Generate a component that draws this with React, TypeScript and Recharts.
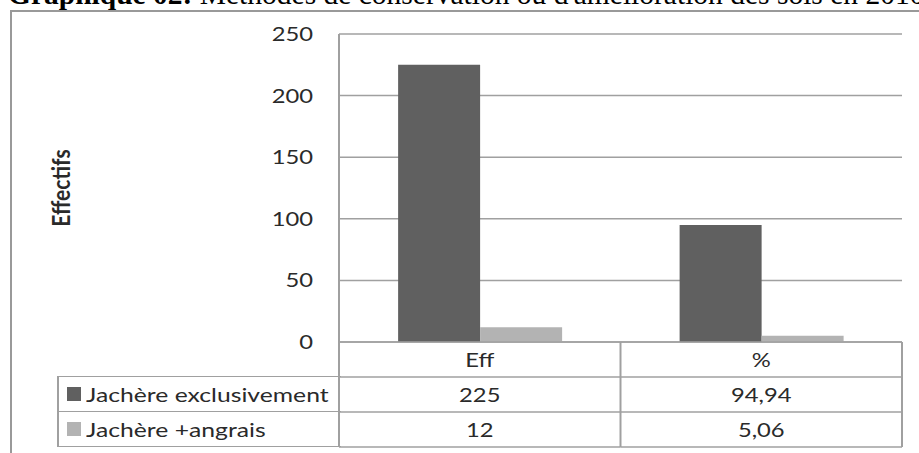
import { BarChart, Bar, XAxis, YAxis, CartesianGrid, Legend } from 'recharts'

const categories = ['Eff', '%']
const exclusivement = [225, 94.94]
const engrais = [12, 5.06]
const seriesNames = ['Jachère exclusivement', 'Jachère +angrais']
const yTicks = [0, 50, 100, 150, 200, 250]

const data = categories.map((cat, i) => ({ cat, excl: exclusivement[i], engrais: engrais[i] }))

const W = 919
const H = 453
const X_H = 111
const margin = { top: 34, right: 17, left: 40, bottom: 0 }
const Y_W = 299
const plotW = W - margin.left - Y_W - margin.right
const colW = plotW / categories.length
const ROW = 35
const FONT = 'Lato, "Open Sans", sans-serif'
const GRID = '#a0a0a0'
const TEXT = '#2a2a2a'
const SX = 1.25

const fmt = (v: number) => String(v).replace('.', ',')

const YTick = ({ x, y, payload }: any) => (
  <text
    transform={`translate(${x},${y}) scale(${SX},1)`}
    textAnchor='end'
    dominantBaseline='central'
    fontSize={19}
    fontFamily={FONT}
    fill={TEXT}
  >
    {payload.value}
  </text>
)

// colonnes du tableau de données sous l'axe
const TableTick = ({ x, y, payload }: any) => {
  const i = categories.indexOf(payload.value)
  const left = x - colW / 2
  const right = x + colW / 2
  const rows = [exclusivement, engrais]
  const cell = (ty: number, label: string, key: string) => (
    <text
      key={key}
      transform={`translate(${x},${ty}) scale(${SX},1)`}
      textAnchor='middle'
      dominantBaseline='central'
      fontSize={19}
      fontFamily={FONT}
      fill={TEXT}
    >
      {label}
    </text>
  )
  return (
    <g>
      {i === 0 && <line x1={left} x2={left} y1={y} y2={y + ROW * 3} stroke={GRID} strokeWidth={2} />}
      <line x1={right} x2={right} y1={y} y2={y + ROW * 3} stroke={GRID} strokeWidth={2} />
      {[1, 2, 3].map(r => (
        <line key={r} x1={left} x2={right} y1={y + ROW * r} y2={y + ROW * r} stroke={GRID} strokeWidth={1.5} />
      ))}
      {cell(y + ROW / 2, payload.value, 'h')}
      {rows.map((vals, r) => cell(y + ROW * (r + 1) + ROW / 2, fmt(vals[i]), 'r' + r))}
    </g>
  )
}

const LegendTable = ({ payload }: any) => {
  const items = [...(payload || [])].sort(
    (a: any, b: any) => seriesNames.indexOf(a.value) - seriesNames.indexOf(b.value)
  )
  return (
    <div style={{ borderLeft: `2px solid ${GRID}`, borderTop: `1px solid ${GRID}`, boxSizing: 'border-box' }}>
      {items.map((p: any) => (
        <div
          key={p.value}
          style={{
            height: ROW,
            boxSizing: 'border-box',
            borderBottom: `1.5px solid ${GRID}`,
            display: 'flex',
            alignItems: 'center',
            fontFamily: FONT,
            fontSize: 19,
            color: TEXT
          }}
        >
          <span style={{ width: 14, height: 14, background: p.color, marginLeft: 8, flex: 'none' }} />
          <span style={{ display: 'inline-block', marginLeft: 5, transform: 'scaleX(1.3)', transformOrigin: 'left center', whiteSpace: 'nowrap' }}>
            {p.value}
          </span>
        </div>
      ))}
    </div>
  )
}

const AxisTitle = ({ viewBox }: any) => {
  const cx = viewBox.x + 20
  const cy = viewBox.y + viewBox.height / 2
  return (
    <text
      transform={`translate(${cx},${cy}) rotate(-90) scale(1,1.2)`}
      textAnchor='middle'
      dominantBaseline='central'
      fontSize={21}
      fontWeight='bold'
      fontFamily={FONT}
      fill={TEXT}
    >
      Effectifs
    </text>
  )
}

export default function App() {
  return (
    <div style={{ position: 'absolute', left: 0, top: 0, width: W, height: H, overflow: 'hidden', background: '#fff' }}>
      <div
        style={{
          position: 'absolute',
          left: 8,
          top: -20,
          fontFamily: '"Liberation Serif", "Times New Roman", serif',
          fontSize: 29.5,
          lineHeight: '29px',
          whiteSpace: 'nowrap',
          color: '#000'
        }}
      >
        <b>Graphique 02:</b> Méthodes de conservation ou d'amélioration des sols en 2010
      </div>
      <div style={{ position: 'absolute', left: 0, top: 0 }}>
        <BarChart width={W} height={H} data={data} margin={margin} barCategoryGap='21%' barGap={0}>
          <CartesianGrid vertical={false} stroke={GRID} strokeWidth={1.5} />
          <XAxis
            dataKey='cat'
            interval={0}
            tickLine={false}
            tickSize={0}
            tickMargin={0}
            height={X_H}
            axisLine={{ stroke: GRID, strokeWidth: 1.5 }}
            tick={<TableTick />}
          />
          <YAxis
            domain={[0, 250]}
            ticks={yTicks}
            width={Y_W}
            tickLine={false}
            tickMargin={20}
            axisLine={{ stroke: GRID, strokeWidth: 2 }}
            tick={<YTick />}
            label={<AxisTitle />}
          />
          <Legend
            layout='vertical'
            align='center'
            verticalAlign='middle'
            wrapperStyle={{ left: 57, top: H - X_H + ROW - 1, width: 284, height: ROW * 2 + 1 }}
            content={<LegendTable />}
          />
          <Bar dataKey='excl' name={seriesNames[0]} fill='#606060' isAnimationActive={false} />
          <Bar dataKey='engrais' name={seriesNames[1]} fill='#b3b3b3' isAnimationActive={false} />
        </BarChart>
      </div>
      <div
        style={{
          position: 'absolute',
          left: 10,
          top: 10,
          width: 1000,
          height: 600,
          border: '2px solid #999',
          boxSizing: 'border-box',
          pointerEvents: 'none'
        }}
      />
    </div>
  )
}
